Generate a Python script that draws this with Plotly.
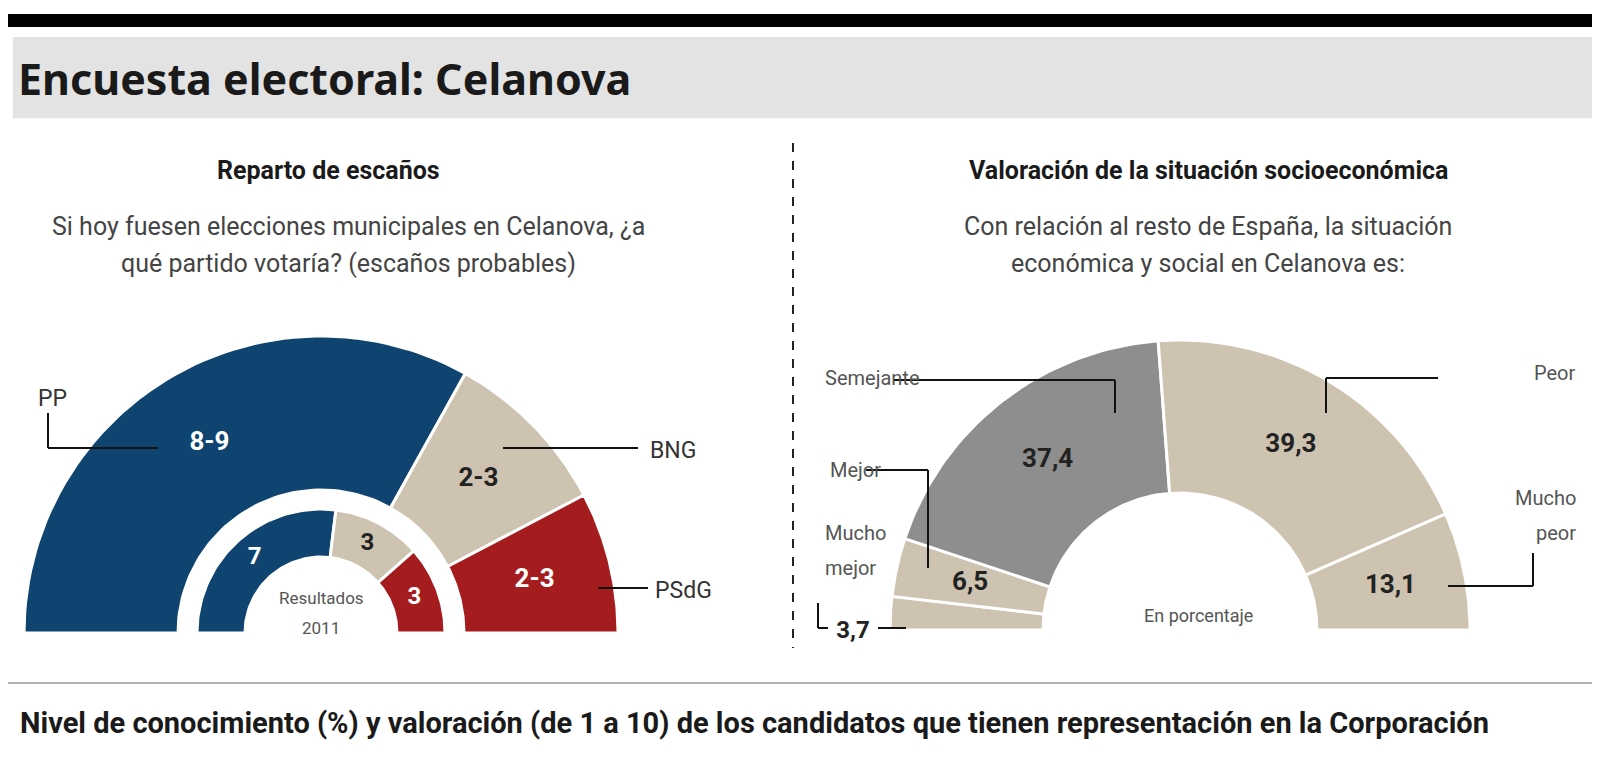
import numpy as np
import plotly.graph_objects as go

# data
seat_parties = ["PP", "BNG", "PSdG"]
seat_values = [8.6, 2.4, 2.0]          # arc share of 13 seats
seat_labels = ["8-9", "2-3", "2-3"]
seat_colors = ["#0f4470", "#cdc3b0", "#a51c1e"]
seat_text_colors = ["white", "#222", "white"]

res2011_values = [7, 3, 3]
res2011_labels = ["7", "3", "3"]

socio_cats = ["Mucho mejor", "Mejor", "Semejante", "Peor", "Mucho peor"]
socio_values = [3.7, 6.5, 37.4, 39.3, 13.1]
socio_labels = ["3,7", "6,5", "37,4", "39,3", "13,1"]
socio_colors = ["#cdc3b0", "#cdc3b0", "#8e8e8e", "#cdc3b0", "#cdc3b0"]

FONT = "Roboto, sans-serif"
fig = go.Figure()


def half_donut(values, cx, cy, r0, r1, colors, labels, tcolors, lab_r, lab_size):
    total = sum(values)
    start = 180.0
    for v, c, lab, tc in zip(values, colors, labels, tcolors):
        end = start - 180.0 * v / total
        th = np.radians(np.linspace(start, end, 60))
        xs = np.concatenate([cx + r1 * np.cos(th), cx + r0 * np.cos(th[::-1])])
        ys = np.concatenate([cy - r1 * np.sin(th), cy - r0 * np.sin(th[::-1])])
        fig.add_trace(go.Scatter(x=np.append(xs, xs[0]), y=np.append(ys, ys[0]),
                                 fill="toself", fillcolor=c, mode="lines",
                                 line=dict(color="white", width=3),
                                 hoverinfo="skip", showlegend=False))
        if lab is not None:
            m = np.radians((start + end) / 2)
            fig.add_trace(go.Scatter(x=[cx + lab_r * np.cos(m)], y=[cy - lab_r * np.sin(m)],
                                     mode="text", text=[f"<b>{lab}</b>"],
                                     textfont=dict(color=tc, size=lab_size, family=FONT),
                                     hoverinfo="skip", showlegend=False))
        start = end


# left: seats
half_donut(seat_values, 313, 625, 143, 297, seat_colors, seat_labels,
           seat_text_colors, 220, 26)
half_donut(res2011_values, 313, 625, 76, 124, seat_colors, res2011_labels,
           seat_text_colors, 100, 24)

# right: socioeconomic (smallest slice label placed outside)
half_donut(socio_values, 1172, 622, 137, 290, socio_colors,
           [None] + socio_labels[1:], ["#222"] * 5, 215, 26)
fig.add_trace(go.Scatter(x=[845], y=[624], mode="text", text=["<b>" + socio_labels[0] + "</b>"],
                         textfont=dict(color="#222", size=24, family=FONT),
                         hoverinfo="skip", showlegend=False))

fig.update_xaxes(range=[0, 1600], visible=False)
fig.update_yaxes(range=[760, 0], visible=False)

shapes = [
    dict(type="rect", x0=0, x1=1600, y0=0.992, y1=0.975, xref="paper", yref="paper",
         fillcolor="black", line_width=0),
    dict(type="rect", x0=0.003, x1=1, y0=0.962, y1=0.855, xref="paper", yref="paper",
         fillcolor="#e3e3e3", line_width=0),
    dict(type="line", x0=785, x1=785, y0=135, y1=640, line=dict(color="#222", width=2, dash="dash")),
    dict(type="line", x0=0, x1=1600, y0=675, y1=675, line=dict(color="#999", width=1.5)),
]
leaders = [
    [(40, 405), (40, 440), (150, 440)],
    [(495, 440), (630, 440)],
    [(590, 580), (640, 580)],
    [(885, 372), (1107, 372), (1107, 405)],
    [(1430, 370), (1318, 370), (1318, 405)],
    [(858, 462), (920, 462), (920, 560)],
    [(810, 595), (810, 620), (820, 620)],
    [(870, 620), (898, 620)],
    [(1525, 545), (1525, 578), (1440, 578)],
]
for pts in leaders:
    for (x0, y0), (x1, y1) in zip(pts[:-1], pts[1:]):
        shapes.append(dict(type="line", x0=x0, y0=y0, x1=x1, y1=y1,
                           line=dict(color="#111", width=2)))

def txt(x, y, s, size=22, color="#333", anchor="left", bold=False, family=FONT):
    return dict(x=x, y=y, xref="x", yref="y", text=f"<b>{s}</b>" if bold else s,
                showarrow=False, xanchor=anchor, yanchor="middle",
                font=dict(size=size, color=color, family=family))

ann = [
    txt(8, 70, "Encuesta electoral: Celanova", 43, "#1a1a1a", bold=True,
        family="Noto Sans, sans-serif"),
    txt(320, 162, "Reparto de escaños", 25, "#1a1a1a", "center", True),
    txt(340, 218, "Si hoy fuesen elecciones municipales en Celanova, ¿a", 25, "#444", "center"),
    txt(340, 255, "qué partido votaría? (escaños probables)", 25, "#444", "center"),
    txt(1200, 162, "Valoración de la situación socioeconómica", 25, "#1a1a1a", "center", True),
    txt(1200, 218, "Con relación al resto de España, la situación", 25, "#444", "center"),
    txt(1200, 255, "económica y social en Celanova es:", 25, "#444", "center"),
    txt(28, 390, "PP", 23),
    txt(640, 442, "BNG", 23),
    txt(645, 582, "PSdG", 23),
    txt(313, 590, "Resultados", 17, "#555", "center"),
    txt(313, 620, "2011", 17, "#555", "center"),
    txt(815, 370, "Semejante", 20, "#555"),
    txt(1570, 365, "Peor", 20, "#555", "right"),
    txt(820, 462, "Mejor", 20, "#555"),
    txt(815, 525, "Mucho", 20, "#555"),
    txt(815, 560, "mejor", 20, "#555"),
    txt(1570, 490, "Mucho", 20, "#555", "right"),
    txt(1570, 525, "peor", 20, "#555", "right"),
    txt(1190, 607, "En porcentaje", 18, "#555", "center"),
    txt(10, 715, "Nivel de conocimiento (%) y valoración (de 1 a 10) de los candidatos que tienen representación en la Corporación",
        29, "#1a1a1a", bold=True),
]

fig.update_layout(width=1600, height=760, margin=dict(l=0, r=0, t=0, b=0),
                  plot_bgcolor="white", paper_bgcolor="white",
                  shapes=shapes, annotations=ann)
fig.write_html("out.html")
